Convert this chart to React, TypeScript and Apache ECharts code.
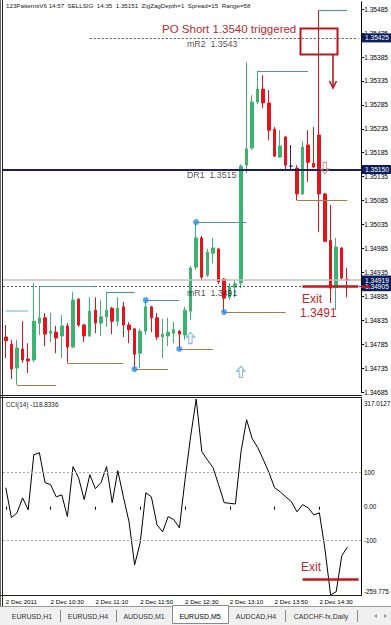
import React, { useEffect, useRef } from "react";
import * as echarts from "echarts";

const FONT = "'Liberation Sans', Arial, sans-serif";

// ---- data ----
const barTimes = [
  "09:50","09:55","10:00","10:05","10:10","10:15","10:20","10:25","10:30","10:35",
  "10:40","10:45","10:50","10:55","11:00","11:05","11:10","11:15","11:20","11:25",
  "11:30","11:35","11:40","11:45","11:50","11:55","12:00","12:05","12:10","12:15",
  "12:20","12:25","12:30","12:35","12:40","12:45","12:50","12:55","13:00","13:05",
  "13:10","13:15","13:20","13:25","13:30","13:35","13:40","13:45","13:50","13:55",
  "14:00","14:05","14:10","14:15","14:20","14:25","14:30","14:35","14:40","14:45",
  "14:50","14:55",
];
const emptySlots = ["", ""];

const opens = [
  1.34800,1.34785,1.34735,1.34775,1.34754,1.34752,1.34829,1.34840,1.34808,1.34810,
  1.34802,1.34823,1.34779,1.34879,1.34825,1.34802,1.34856,1.34829,1.34842,1.34860,
  1.34833,1.34863,1.34825,1.34817,1.34766,1.34812,1.34863,1.34840,1.34800,1.34802,
  1.34808,1.34812,1.34804,1.34854,1.34946,1.35007,1.34929,1.34975,1.34984,1.34921,
  1.34883,1.34904,1.34913,1.35159,1.35195,1.35291,1.35318,1.35289,1.35234,1.35176,
  1.35218,1.35157,1.35153,1.35099,1.35201,1.35163,1.35222,1.35099,1.35002,1.34904,
  1.34986,1.34921,
];
const closes = [
  1.34792,1.34733,1.34777,1.34752,1.34750,1.34833,1.34840,1.34806,1.34812,1.34798,
  1.34823,1.34779,1.34877,1.34825,1.34802,1.34854,1.34829,1.34842,1.34856,1.34833,
  1.34860,1.34825,1.34815,1.34764,1.34812,1.34863,1.34840,1.34800,1.34806,1.34810,
  1.34815,1.34806,1.34856,1.34944,1.35007,1.34925,1.34977,1.34986,1.34915,1.34881,
  1.34904,1.34911,1.35157,1.35193,1.35291,1.35318,1.35289,1.35232,1.35178,1.35199,
  1.35159,1.35157,1.35099,1.35197,1.35165,1.35155,1.35099,1.35000,1.34902,1.34988,
  1.34923,1.34919,
];
const lows = [
  1.34756,1.34712,1.34700,1.34746,1.34725,1.34748,1.34804,1.34781,1.34789,1.34766,
  1.34756,1.34746,1.34777,1.34821,1.34789,1.34800,1.34808,1.34802,1.34821,1.34806,
  1.34823,1.34800,1.34787,1.34733,1.34735,1.34804,1.34810,1.34794,1.34756,1.34781,
  1.34787,1.34775,1.34794,1.34835,1.34940,1.34919,1.34925,1.34954,1.34911,1.34852,
  1.34877,1.34883,1.34902,1.35142,1.35191,1.35287,1.35278,1.35211,1.35176,1.35174,
  1.35149,1.35149,1.35086,1.35097,1.35124,1.35153,1.35019,1.34998,1.34871,1.34856,
  1.34919,1.34883,
];
const highs = [
  1.34825,1.34794,1.34794,1.34833,1.34787,1.34913,1.34906,1.34850,1.34850,1.34823,
  1.34846,1.34829,1.34894,1.34881,1.34827,1.34883,1.34883,1.34877,1.34894,1.34863,
  1.34883,1.34873,1.34831,1.34819,1.34817,1.34877,1.34865,1.34850,1.34838,1.34840,
  1.34831,1.34815,1.34863,1.34948,1.35040,1.35011,1.34984,1.35007,1.34986,1.34923,
  1.34913,1.34919,1.35161,1.35374,1.35305,1.35356,1.35347,1.35316,1.35239,1.35232,
  1.35220,1.35201,1.35159,1.35209,1.35232,1.35239,1.35483,1.35101,1.35076,1.35007,
  1.34988,1.34944,
];
const dojiIndex = 51;

const cci = [
  56,-32,-18,26,-9,153,159,71,65,29,
  35,-29,118,85,21,94,53,71,118,12,
  106,29,-44,-171,-106,41,29,-53,-74,-29,
  -38,-62,79,206,317.0127,162,138,115,65,12,
  10,8,162,256,200,174,138,100,56,44,
  29,15,-15,6,-3,-24,-18,-126,-259.775,-250,
  -144,-118.8336,
];

// axis
const priceMin = 1.34685;
const priceMax = 1.355;
const priceStep = 0.0005;
const cciMin = -259.775;
const cciMax = 317.0127;
const cciLevels = [100, -100];
const cciAxisTexts = [
  { v: 317.0127, t: "317.0127", dy: 4 },
  { v: 100, t: "100", dy: 0 },
  { v: 0, t: "0.00", dy: 0 },
  { v: -100, t: "-100", dy: 0 },
  { v: -259.775, t: "-259.775", dy: -4 },
];
const xTickFirst = "2 Dec 2011";
const xTickPrefix = "2 Dec ";

// indicator levels / pivots  [fromBar, toBar, price]
const pivotHighs = [
  [6, 16, 1.34906], [18, 23, 1.34894], [25, 31, 1.34877],
  [34, 43, 1.35040], [45, 54, 1.35356], [56, 61, 1.35483],
];
const pivotEarly = [0, 4, 1.34854];
const pivotLows = [
  [2, 9, 1.34700], [11, 21, 1.34746], [23, 29, 1.34733],
  [31, 37, 1.34775], [39, 50, 1.34852], [52, 61, 1.35086],
];
const swingDots = [[23, 1.34733], [25, 1.34877], [31, 1.34775], [34, 1.35040], [39, 1.34852]];
const upArrows = [[33, 1.34798], [42, 1.34727]];
const downArrows = [[57, 1.35153]];
const levelDR1 = 1.3515;
const levelBid = 1.34919;
const levelMR1 = 1.34905;
const levelMR2 = 1.35425;
const mr2FromBar = 15;
const exitFromBar = 53;
const lastSlot = 63;
const cciExit = -213;
const levelTexts = [
  { t: "DR1  1.3515", bar: 33, p: 1.3515 },
  { t: "mR1  1.3491", bar: 33, p: 1.34905 },
  { t: "mR2  1.3543", bar: 33, p: 1.35425 },
];
const axisMarks = [1.35425, 1.3515, 1.34905, 1.34919];

const headerText = "123PatternsV6 14:57  SELLSIG  14:35  1.35151  ZigZagDepth=1  Spread=15  Range=58";
const cciTitle = "CCI(14) -118.8336";
const tabs = ["EURUSD,H1", "EURUSD,H4", "AUDUSD,M1", "EURUSD,M5", "AUDCAD,H4", "CADCHF-fx,Daily"];
const activeTab = 3;

const RED = "#c1272d";
const TEAL = "#5593a8";
const BROWN = "#a87a4e";

function seg(a: number, b: number, p: number, color: string, width = 1.2, type: any = "solid") {
  return [{ coord: [a, p], lineStyle: { color, width, type } }, { coord: [b, p] }];
}

function buildOption() {
  const cats = [...barTimes, ...emptySlots];
  const candleData = opens.map((o, i) => {
    const v = [o, closes[i], lows[i], highs[i]];
    if (i === dojiIndex) return { value: v, itemStyle: { color: "#1d2b7a", borderColor: "#1d2b7a" } };
    return v;
  });
  const mainLines: any[] = [
    { yAxis: levelBid, lineStyle: { color: "#c2c2c2", width: 1.6, type: "solid" } },
    { yAxis: levelMR1, lineStyle: { color: "#555", width: 1, type: [2, 2] } },
    { yAxis: levelDR1, lineStyle: { color: "#1c1f5a", width: 2, type: "solid" } },
    seg(mr2FromBar, lastSlot, levelMR2, "#555", 1, [2, 2]),
    seg(pivotEarly[0], pivotEarly[1], pivotEarly[2], "#8fcfe6", 1.5),
    ...pivotHighs.map((h) => seg(h[0], h[1], h[2], TEAL)),
    ...pivotLows.map((l) => seg(l[0], l[1], l[2], BROWN)),
    seg(exitFromBar, lastSlot, levelMR1, "#c8141c", 2.5),
  ];
  const cciLines: any[] = [
    ...cciLevels.map((v) => ({ yAxis: v, lineStyle: { color: "#aaa", width: 1, type: [2, 2] } })),
    seg(exitFromBar, lastSlot, cciExit, "#c8141c", 2.5),
  ];
  const arrowUp = "path://M5,0 L10,5 L7,5 L7,12 L3,12 L3,5 L0,5 Z";
  const arrowDown = "path://M3,0 L7,0 L7,7 L10,7 L5,12 L0,7 L3,7 Z";
  return {
    animation: false,
    backgroundColor: "#ffffff",
    textStyle: { fontFamily: FONT },
    grid: [
      { left: 3, top: 2, width: 358.4, height: 390 },
      { left: 3, top: 399, width: 358.4, height: 196 },
    ],
    xAxis: [
      { type: "category", gridIndex: 0, data: cats, boundaryGap: true, axisLine: { show: false }, axisTick: { show: false }, axisLabel: { show: false }, splitLine: { show: false } },
      {
        type: "category", gridIndex: 1, data: cats, boundaryGap: true,
        axisLine: { show: false },
        axisTick: { show: true, interval: 7, length: 3, alignWithLabel: true, lineStyle: { color: "#000" } },
        axisLabel: {
          interval: 7, align: "left", fontSize: 6.2, color: "#000", margin: 3, fontFamily: FONT,
          formatter: (v: string, i: number) => (i === 0 ? xTickFirst : xTickPrefix + v),
        },
        splitLine: { show: false },
      },
    ],
    yAxis: [
      {
        type: "value", gridIndex: 0, position: "right", min: priceMin, max: priceMax, interval: priceStep,
        axisLine: { show: true, lineStyle: { color: "#000" } },
        axisTick: { show: true, length: 3, lineStyle: { color: "#000" } },
        axisLabel: { fontSize: 6.6, color: "#000", margin: 3, fontFamily: FONT, showMaxLabel: false, formatter: (v: number) => v.toFixed(5) },
        splitLine: { show: false },
      },
      {
        type: "value", gridIndex: 1, position: "right", min: cciMin, max: cciMax,
        axisLine: { show: true, lineStyle: { color: "#000" } },
        axisTick: { show: false }, axisLabel: { show: false }, splitLine: { show: false },
      },
    ],
    series: [
      {
        type: "candlestick", xAxisIndex: 0, yAxisIndex: 0, data: candleData, barWidth: 3,
        itemStyle: { color: "#3cb371", color0: "#e3141b", borderColor: "#3cb371", borderColor0: "#e3141b", borderWidth: 1 },
        markLine: { silent: true, precision: 6, symbol: ["none", "none"], label: { show: false }, data: mainLines },
      },
      {
        type: "scatter", xAxisIndex: 0, yAxisIndex: 0, data: swingDots, symbol: "circle", symbolSize: 6,
        itemStyle: { color: "#2b8fe3" }, silent: true, z: 5,
      },
      {
        type: "scatter", xAxisIndex: 0, yAxisIndex: 0, data: upArrows, symbol: arrowUp, symbolSize: [8, 11],
        itemStyle: { color: "rgba(255,255,255,0)", borderColor: "#6fa9d6", borderWidth: 1.2 }, silent: true, z: 5,
      },
      {
        type: "scatter", xAxisIndex: 0, yAxisIndex: 0, data: downArrows, symbol: arrowDown, symbolSize: [8, 11],
        itemStyle: { color: "rgba(255,255,255,0)", borderColor: "#c98a6a", borderWidth: 1.2 }, silent: true, z: 5,
      },
      {
        type: "scatter", xAxisIndex: 0, yAxisIndex: 0, symbolSize: 1, itemStyle: { color: "rgba(0,0,0,0)" }, silent: true, z: 6,
        data: levelTexts.map((l) => ({ name: l.t, value: [l.bar, l.p] })),
        label: { show: true, position: [-3, 2], formatter: (p: any) => p.name, fontSize: 8.8, fontFamily: FONT, color: "#1a1a1a" },
      },
      {
        type: "line", xAxisIndex: 1, yAxisIndex: 1, data: cci, symbol: "none",
        lineStyle: { color: "#000", width: 1 }, itemStyle: { color: "#000" },
        markLine: { silent: true, precision: 4, symbol: ["none", "none"], label: { show: false }, data: cciLines },
      },
    ],
  };
}

function txt(x: number, y: number, text: string, size: number, fill: string, extra: any = {}) {
  return { type: "text", x, y, z: 100, silent: true, style: { text, fill, fontSize: size, fontFamily: FONT, ...extra } };
}
function line(x1: number, y1: number, x2: number, y2: number, stroke: string, w = 1) {
  return { type: "line", z: 100, silent: true, shape: { x1, y1, x2, y2 }, style: { stroke, lineWidth: w } };
}

function staticGraphics(): any[] {
  const g: any[] = [];
  // frame
  g.push(line(0.5, 0, 0.5, 606, "#666"));
  g.push(line(2.5, 0, 2.5, 606, "#222"));
  g.push(line(0, 395.5, 362, 395.5, "#222"));
  g.push(line(0, 397.5, 362, 397.5, "#222"));
  g.push(line(0, 595.5, 362, 595.5, "#222"));
  // header & titles
  g.push(txt(6, 2, headerText, 6.2, "#222"));
  g.push(txt(6, 401, cciTitle, 6.4, "#222"));
  // annotations
  g.push(txt(162, 23, "PO Short 1.3540 triggered", 11.5, RED));
  g.push({ type: "rect", z: 100, silent: true, shape: { x: 300.5, y: 28.5, width: 37, height: 26 }, style: { stroke: "#b5181d", lineWidth: 2, fill: "none" } });
  g.push(line(333, 55, 333, 87, "#b5181d", 1.6));
  g.push({ type: "polyline", z: 100, silent: true, shape: { points: [[329.5, 81], [333, 88], [336.5, 81]] }, style: { stroke: "#b5181d", lineWidth: 1.6, fill: "none" } });
  g.push(txt(302, 293, "Exit", 12, RED));
  g.push(txt(300, 307, "1.3491", 12, RED));
  g.push(txt(301, 561, "Exit", 12, RED));
  // tab bar
  g.push({ type: "rect", z: 100, silent: true, shape: { x: 0, y: 606, width: 391, height: 19 }, style: { fill: "#f0f0f0" } });
  g.push(line(0, 606.5, 391, 606.5, "#9a9a9a"));
  const centers = [32, 88, 144, 200, 256, 321];
  const seps = [60, 116, 285, 357];
  g.push({ type: "rect", z: 101, silent: true, shape: { x: 172.5, y: 605.5, width: 56, height: 18 }, style: { fill: "#ffffff", stroke: "#8a8a8a", lineWidth: 1 } });
  tabs.forEach((t, i) => {
    g.push({
      type: "text", x: centers[i], y: 616, z: 102, silent: true,
      style: { text: t, fill: i === activeTab ? "#000" : "#333", fontSize: 7, fontFamily: FONT, textAlign: "center", textVerticalAlign: "middle", align: "center", verticalAlign: "middle" },
    });
  });
  seps.forEach((x) => g.push(line(x + 0.5, 610, x + 0.5, 622, "#888")));
  g.push({ type: "polygon", z: 102, silent: true, shape: { points: [[374, 616], [377, 614], [377, 618]] }, style: { fill: "#999" } });
  g.push({ type: "polygon", z: 102, silent: true, shape: { points: [[387, 616], [384, 614], [384, 618]] }, style: { fill: "#999" } });
  return g;
}

export default function App() {
  const ref = useRef<HTMLDivElement>(null);
  useEffect(() => {
    if (!ref.current) return;
    const chart = echarts.init(ref.current, null, { renderer: "svg" });
    chart.setOption(buildOption() as any);
    const marks = axisMarks.map((p) => {
      const y = chart.convertToPixel({ yAxisIndex: 0 } as any, p) as unknown as number;
      return {
        type: "group", z: 110, silent: true,
        children: [
          { type: "rect", z: 110, shape: { x: 362, y: y - 4.5, width: 29, height: 9 }, style: { fill: "#0c1d5c" } },
          {
            type: "text", z: 111, x: 365, y,
            style: { text: p.toFixed(5), fill: "#ffffff", fontSize: 6.6, fontFamily: FONT, textVerticalAlign: "middle", verticalAlign: "middle" },
          },
        ],
      };
    });
    const exitY = chart.convertToPixel({ yAxisIndex: 0 } as any, levelMR1) as unknown as number;
    const exitStub = { type: "line", z: 112, silent: true, shape: { x1: 361, y1: exitY, x2: 370, y2: exitY }, style: { stroke: "#c8141c", lineWidth: 2.5 } };
    const cciLabels = cciAxisTexts.map((a) => {
      const y = (chart.convertToPixel({ yAxisIndex: 1 } as any, a.v) as unknown as number) + a.dy;
      return {
        type: "text", z: 105, silent: true, x: 364, y,
        style: { text: a.t, fill: "#000", fontSize: 6.3, fontFamily: FONT, textVerticalAlign: "middle", verticalAlign: "middle" },
      };
    });
    chart.setOption({ graphic: [...staticGraphics(), ...marks, exitStub, ...cciLabels] } as any);
    return () => chart.dispose();
  }, []);
  return <div ref={ref} style={{ position: "fixed", left: 0, top: 0, width: 391, height: 625, background: "#fff" }} />;
}
